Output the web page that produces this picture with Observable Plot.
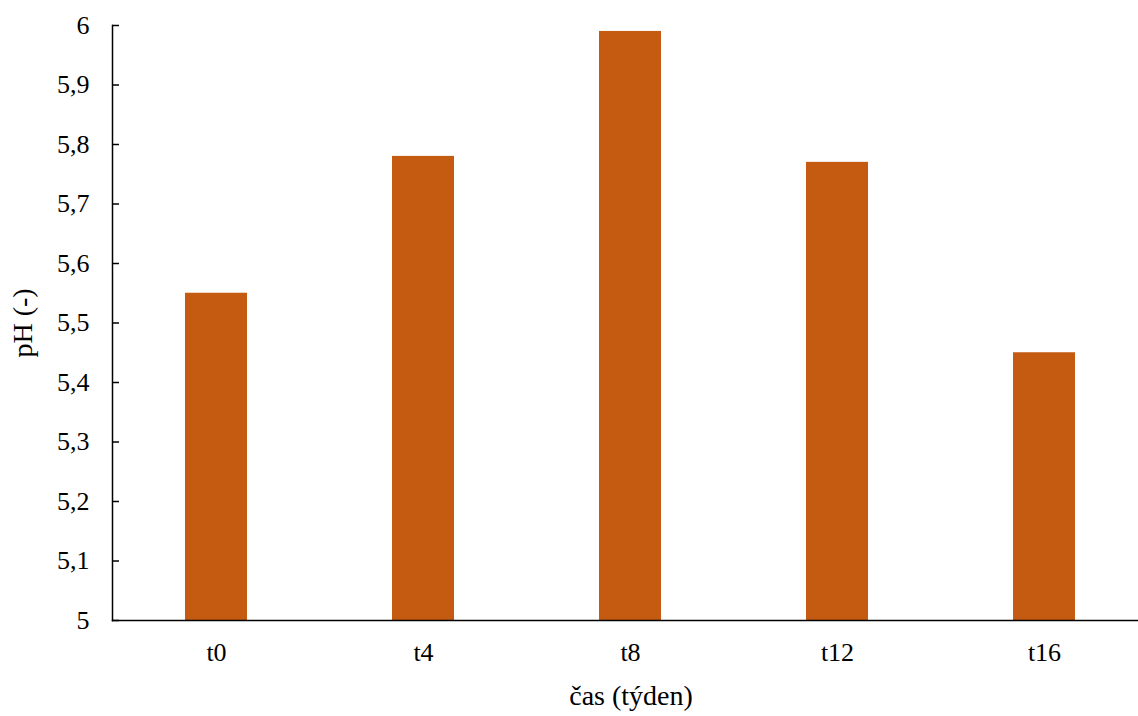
<!DOCTYPE html>
<html>
<head>
<meta charset="utf-8">
<script src="https://cdn.jsdelivr.net/npm/d3@7"></script>
<script src="https://cdn.jsdelivr.net/npm/@observablehq/plot@0.6"></script>
<style>
  html, body { margin: 0; padding: 0; background: #fff; overflow: hidden; }
  #chart svg { display: block; max-width: none !important; overflow: visible; }
</style>
</head>
<body>
<div id="chart"></div>
<script>
const categories = ["t0", "t4", "t8", "t12", "t16"];
const phValues = [5.55, 5.78, 5.99, 5.77, 5.45];
const yTicks = [5, 5.1, 5.2, 5.3, 5.4, 5.5, 5.6, 5.7, 5.8, 5.9, 6];
const xTitle = "čas (týden)";
const yTitle = "pH (-)";

const data = categories.map((c, i) => ({cat: c, value: phValues[i]}));
const fmt = d => String(Math.round(d * 10) / 10).replace(".", ",");
const serif = "Liberation Serif";

const plot = Plot.plot({
  width: 1138,
  height: 716,
  marginLeft: 112,
  marginRight: -11,
  marginTop: 25,
  marginBottom: 96,
  style: {fontFamily: serif},
  x: {domain: categories, paddingInner: 0.7, paddingOuter: 0.35, label: null},
  y: {domain: [5, 6], label: null},
  marks: [
    Plot.barY(data, {x: "cat", y1: 5, y2: "value", fill: "#C55A11"}),
    Plot.axisY({ticks: yTicks, tickSize: -7, text: null, strokeWidth: 1.5, stroke: "#000", label: null}),
    Plot.axisY({ticks: yTicks, tickSize: 0, tickPadding: 23, tickFormat: fmt, fontSize: 26, fontFamily: serif, fill: "#000", label: null}),
    Plot.axisY({ticks: [], tickSize: 0, label: yTitle, labelAnchor: "center", labelArrow: "none", labelOffset: 100, fontSize: 28, fontFamily: serif, fill: "#000"}),
    Plot.axisX({tickSize: 0, tickPadding: 22, fontSize: 26, fontFamily: serif, fill: "#000", label: null}),
    Plot.frame({anchor: "left", stroke: "#000", strokeWidth: 1.5}),
    Plot.frame({anchor: "bottom", stroke: "#000", strokeWidth: 1.5}),
    Plot.text([xTitle], {frameAnchor: "bottom", dy: 84, fontSize: 28, fontFamily: serif, fill: "#000", text: d => d})
  ]
});
document.getElementById("chart").appendChild(plot);
</script>
</body>
</html>
